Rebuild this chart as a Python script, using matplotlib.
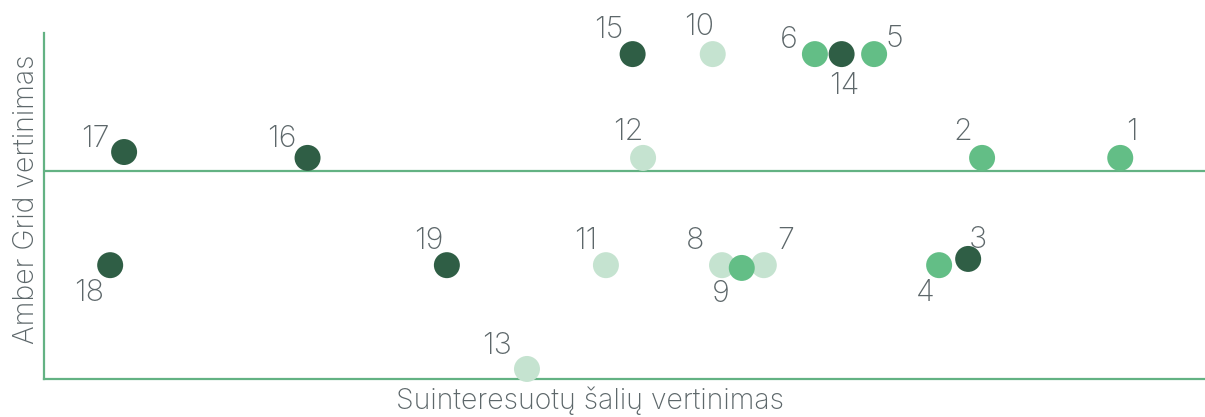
import matplotlib
matplotlib.use("Agg")
import matplotlib.pyplot as plt

plt.rcParams['font.family'] = ['Inter', 'DejaVu Sans']

# taskai: numeris, x (suinteresuotu saliu vertinimas), y (Amber Grid vertinimas)
labels = ['1', '2', '3', '4', '5', '6', '7', '8', '9', '10',
          '11', '12', '13', '14', '15', '16', '17', '18', '19']
x_vals = [9.27, 8.08, 7.96, 7.71, 7.15, 6.64, 6.20, 5.84, 6.01, 5.76,
          4.84, 5.16, 4.16, 6.87, 5.07, 2.27, 0.69, 0.57, 3.47]
y_vals = [6.39, 6.39, 3.47, 3.29, 9.39, 9.39, 3.29, 3.29, 3.21, 9.39,
          3.29, 6.39, 0.29, 9.39, 9.39, 6.39, 6.56, 3.29, 3.29]
groups = ['mid', 'mid', 'dark', 'mid', 'mid', 'mid', 'light', 'light', 'mid', 'light',
          'light', 'light', 'light', 'dark', 'dark', 'dark', 'dark', 'dark', 'dark']

colors = {'dark': '#2f5e45', 'mid': '#63be86', 'light': '#c5e3d0'}
line_col = '#63b283'
txt_col = '#5d676a'

# kur deti numeri salia tasko (pikseliais)
offs = [(12, 26), (-19, 26), (10, 19), (-14, -28), (20, 15), (-26, 14), (22, 24),
        (-27, 24), (-21, -26), (-14, 27), (-20, 24), (-15, 26), (-30, 23), (3, -32),
        (-24, 24), (-26, 19), (-29, 13), (-21, -28), (-18, 24)]

fig = plt.figure(figsize=(12.05, 4.17), dpi=100)
ax = fig.add_axes([44/1205, (417-379)/417, (1205-44)/1205, (379-33)/417])

ax.scatter(x_vals, y_vals, s=350, c=[colors[g] for g in groups],
           linewidths=0, zorder=3, clip_on=False)

for lab, x, y, (dx, dy) in zip(labels, x_vals, y_vals, offs):
    ax.annotate(lab, (x, y), xytext=(dx*0.72, dy*0.72), textcoords='offset points',
                ha='center', va='center', fontsize=22, fontweight='light',
                color=txt_col, zorder=4)

ax.axhline(6, color=line_col, lw=1.6, zorder=1)

ax.set_xlim(0, 10)
ax.set_ylim(0, 10)
for s in ['top', 'right']:
    ax.spines[s].set_visible(False)
for s in ['left', 'bottom']:
    ax.spines[s].set_color(line_col)
    ax.spines[s].set_linewidth(1.6)
ax.set_xticks([])
ax.set_yticks([])

ax.set_xlabel('Suinteresuotų šalių vertinimas', fontsize=20.5, fontweight='light', color=txt_col)
ax.set_ylabel('Amber Grid vertinimas', fontsize=20.5, fontweight='light', color=txt_col)
ax.xaxis.set_label_coords(0.47, -0.022)
ax.yaxis.set_label_coords(-0.004, 0.52)

fig.savefig('out.png', dpi=100)
